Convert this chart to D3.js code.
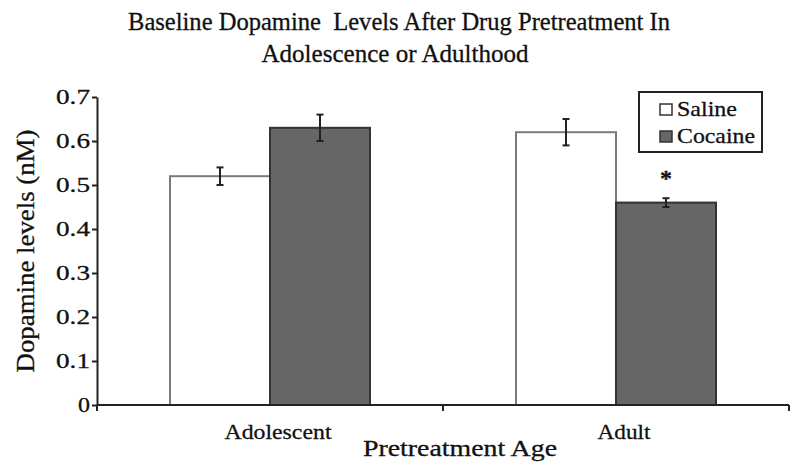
<!DOCTYPE html>
<html><head><meta charset="utf-8">
<script src="https://cdn.jsdelivr.net/npm/d3@7"></script>
<style>body{margin:0;background:#fff}svg{display:block}text{font-family:"Liberation Serif","Times New Roman",serif;fill:#111;stroke:#111;stroke-width:0.3px}</style>
</head><body><svg id="c" width="800" height="475"></svg>
<script>
const categories = ["Adolescent", "Adult"];
const seriesNames = ["Saline", "Cocaine"];
const salineValues = [0.52, 0.62];
const salineErrors = [0.02, 0.03];
const cocaineValues = [0.63, 0.46];
const cocaineErrors = [0.03, 0.01];
const significant = [[false,false],[false,true]];
const yTicks = [0,0.1,0.2,0.3,0.4,0.5,0.6,0.7];
const colors = {Saline:"#ffffff", Cocaine:"#666666"};
const strokes = {Saline:"#7a7a7a", Cocaine:"#333333"};

const svg = d3.select("#c");
const L=97, R=789, T=97, B=405;
const x = d3.scaleBand().domain(categories).range([L,R]).paddingInner(0).paddingOuter(0);
const xs = d3.scaleBand().domain(seriesNames).range([0,x.bandwidth()]).paddingInner(0).paddingOuter(0.73);
const y = d3.scaleLinear().domain([0,0.7]).range([B,T]);

const data = [];
categories.forEach((c,i)=>{
  data.push({cat:c, s:"Saline", v:salineValues[i], e:salineErrors[i], sig:significant[i][0]});
  data.push({cat:c, s:"Cocaine", v:cocaineValues[i], e:cocaineErrors[i], sig:significant[i][1]});
});
const cx = d=>x(d.cat)+xs(d.s)+xs.bandwidth()/2;

svg.selectAll("rect.bar").data(data).join("rect").attr("class","bar")
  .attr("x",d=>x(d.cat)+xs(d.s)).attr("width",xs.bandwidth())
  .attr("y",d=>y(d.v)).attr("height",d=>B-y(d.v))
  .attr("fill",d=>colors[d.s]).attr("stroke",d=>strokes[d.s]).attr("stroke-width",2);

const eb = svg.selectAll("g.eb").data(data).join("g").attr("class","eb")
  .attr("stroke","#222").attr("stroke-width",2);
eb.append("line").attr("x1",cx).attr("x2",cx)
  .attr("y1",d=>y(d.v+d.e)).attr("y2",d=>y(d.v-d.e));
[1,-1].forEach(sg=>{
  eb.append("line").attr("x1",d=>cx(d)-3.5).attr("x2",d=>cx(d)+3.5)
    .attr("y1",d=>y(d.v+sg*d.e)).attr("y2",d=>y(d.v+sg*d.e));
});
svg.selectAll("text.sig").data(data.filter(d=>d.sig)).join("text").attr("class","sig")
  .attr("x",cx).attr("y",d=>y(d.v+d.e)-12)
  .attr("text-anchor","middle").attr("font-size",24).attr("font-weight","bold").text("*");

// axes
const ya = svg.append("g").attr("transform",`translate(${L},0)`)
  .call(d3.axisLeft(y).tickValues(yTicks).tickSize(5).tickSizeOuter(0).tickFormat(d=>d===0?"0":d3.format(".1f")(d)));
ya.select(".domain").attr("stroke","#222").attr("stroke-width",2);
ya.selectAll(".tick line").attr("stroke","#222").attr("stroke-width",2);
ya.selectAll(".tick text").attr("font-size",21).attr("font-family","Liberation Serif").attr("fill","#111").attr("x",-7)
  .attr("textLength",d=>d===0?12:34).attr("lengthAdjust","spacingAndGlyphs");

const xa = svg.append("g").attr("transform",`translate(0,${B})`);
xa.append("line").attr("x1",L).attr("x2",R).attr("stroke","#222").attr("stroke-width",2);
const xt = [L].concat(categories.map(c=>x(c)+x.bandwidth()));
xa.selectAll("line.t").data(xt).join("line").attr("class","t").attr("x1",d=>d).attr("x2",d=>d).attr("y1",0).attr("y2",6).attr("stroke","#222").attr("stroke-width",2);
const catW = {Adolescent:107, Adult:53};
xa.selectAll("text").data(categories).join("text").attr("x",c=>x(c)+x.bandwidth()/2+8).attr("y",34)
  .attr("text-anchor","middle").attr("font-size",21).attr("textLength",c=>catW[c]).attr("lengthAdjust","spacingAndGlyphs").text(c=>c);

svg.append("text").attr("x",460).attr("y",456).attr("text-anchor","middle").attr("font-size",23)
  .attr("textLength",194).attr("lengthAdjust","spacingAndGlyphs").text("Pretreatment Age");
svg.append("text").attr("transform","translate(34,251) rotate(-90)").attr("text-anchor","middle").attr("font-size",25)
  .attr("textLength",243).attr("lengthAdjust","spacingAndGlyphs").text("Dopamine levels (nM)");
const title = svg.append("g");
title.append("text").attr("text-anchor","middle").attr("x",399).attr("y",30).attr("font-size",25)
  .attr("textLength",542).attr("lengthAdjust","spacingAndGlyphs").text("Baseline Dopamine\u00a0 Levels After Drug Pretreatment In");
title.append("text").attr("text-anchor","middle").attr("x",395).attr("y",62).attr("font-size",25)
  .attr("textLength",267).attr("lengthAdjust","spacingAndGlyphs").text("Adolescence or Adulthood");

// legend
const lg = svg.append("g");
lg.append("rect").attr("x",639).attr("y",92).attr("width",123).attr("height",60).attr("fill","#fff").attr("stroke","#222").attr("stroke-width",2);
const legW = {Saline:60, Cocaine:78};
seriesNames.forEach((s,i)=>{
  const by = 116 + i*27;
  lg.append("rect").attr("x",660).attr("y",by-12).attr("width",12).attr("height",11).attr("fill",colors[s]).attr("stroke","#333").attr("stroke-width",1.5);
  lg.append("text").attr("x",677).attr("y",by).attr("font-size",22).attr("textLength",legW[s]).attr("lengthAdjust","spacingAndGlyphs").text(s);
});
</script></body></html>
